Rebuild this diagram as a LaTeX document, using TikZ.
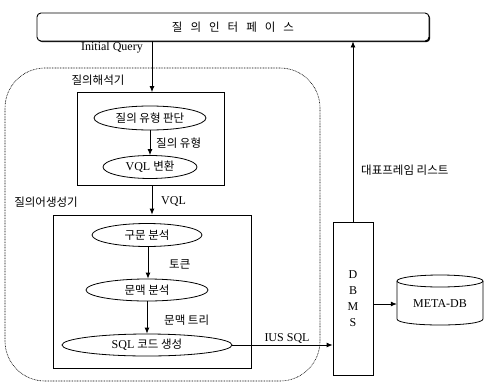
\documentclass[tikz,border=0pt]{standalone}
\usepackage{fontspec}
\setmainfont{Liberation Serif}
\newfontfamily\kr{Noto Sans CJK KR}
\usetikzlibrary{shapes.geometric,arrows.meta,shadows}
\begin{document}
\begin{tikzpicture}[x=1pt,y=-1pt,
  lw/.style={line width=0.8pt},
  krtext/.style={font=\kr\fontsize{11.5}{13}\selectfont},
  entext/.style={font=\fontsize{12}{14}\selectfont},
  ell/.style={ellipse,draw,lw,inner sep=0pt,krtext},
  boxstyle/.style={draw,lw,inner sep=0pt},
  arr/.style={lw,-{Latex[length=6pt,width=5pt]}},
  lbl/.style={inner sep=0pt}
]
\useasboundingbox (0,0) rectangle (484,383);

% interface
\node[draw,line width=0.9pt,rounded corners=4pt,fill=white,
      drop shadow={shadow xshift=1.2pt,shadow yshift=-1.2pt,opacity=1,fill=black},
      minimum width=392,minimum height=28,krtext] (ui) at (233,27)
  {질\hspace{8pt}의\hspace{8pt}인\hspace{8pt}터\hspace{8pt}페\hspace{8pt}이\hspace{8pt}스};

% dotted region
\node[draw,line width=0.6pt,dash pattern=on 0.8pt off 0.8pt,rounded corners=40pt,
      minimum width=315,minimum height=313,inner sep=0pt] (region) at (162.5,224.5) {};

\node[lbl,krtext] (reglbl1) at (98,80) {질의해석기};
\node[lbl,krtext] (reglbl2) at (46,202) {질의어생성기};

% box 1
\node[boxstyle,minimum width=147,minimum height=93] (b1) at (151,139) {};
\node[ell,minimum width=112,minimum height=24] (e1) at (150,118) {질의 유형 판단};
\node[ell,minimum width=94,minimum height=23] (e2) at (150,167) {\fontspec{Liberation Serif}\fontsize{12}{14}\selectfont VQL\ \kr\fontsize{11.5}{13}\selectfont 변환};

% box 2
\node[boxstyle,minimum width=198,minimum height=153] (b2) at (152,291.5) {};
\node[ell,minimum width=110,minimum height=23] (e3) at (147,235) {구문 분석};
\node[ell,minimum width=122,minimum height=22] (e4) at (147,290) {문맥 분석};
\node[ell,minimum width=170,minimum height=22] (e5) at (147,345) {\fontspec{Liberation Serif}\fontsize{12}{14}\selectfont SQL\ \kr\fontsize{11.5}{13}\selectfont 코드 생성};

% DBMS
\node[boxstyle,minimum width=40,minimum height=153,align=center,
      font=\fontsize{12}{16}\selectfont] (dbms) at (353,298.5) {D\\B\\M\\S};

% META-DB
\node[minimum width=86,minimum height=50,inner sep=0pt,entext] (meta) at (440,304) {META-DB};
\draw[lw] (440,281) ellipse [x radius=43, y radius=6];
\draw[lw] (397,281) -- (397,319) .. controls (397,327) and (483,327) .. (483,319) -- (483,281);

% arrows
\draw[arr] (ui.south -| 152,0) -- (b1.north -| 152,0);
\node[lbl,entext,anchor=east] (iq) at (143,48) {Initial Query};
\draw[arr] (e1) -- (e2);
\node[lbl,krtext,anchor=west] (t1) at (156,143) {질의 유형};
\draw[arr] (b1.south -| 152,0) -- (b2.north -| 152,0);
\node[lbl,entext,anchor=west] (t2) at (161,201) {VQL};
\draw[arr] (e3.south -| 148,0) -- (e4.north -| 148,0);
\node[lbl,krtext,anchor=west] (t3) at (169,264) {토큰};
\draw[arr] (e4) -- (e5);
\node[lbl,krtext,anchor=west] (t4) at (164,320) {문맥 트리};
\draw[arr] (e5.east) -- (e5.east -| dbms.west);
\node[lbl,entext] (t5) at (287,338) {IUS SQL};
\draw[arr] (dbms.north) -- (dbms.north |- ui.south);
\node[lbl,krtext,anchor=west] (t6) at (361,170) {대표프레임 리스트};
\draw[arr] (dbms.east |- meta.west) -- (meta.west);
\end{tikzpicture}
\end{document}
